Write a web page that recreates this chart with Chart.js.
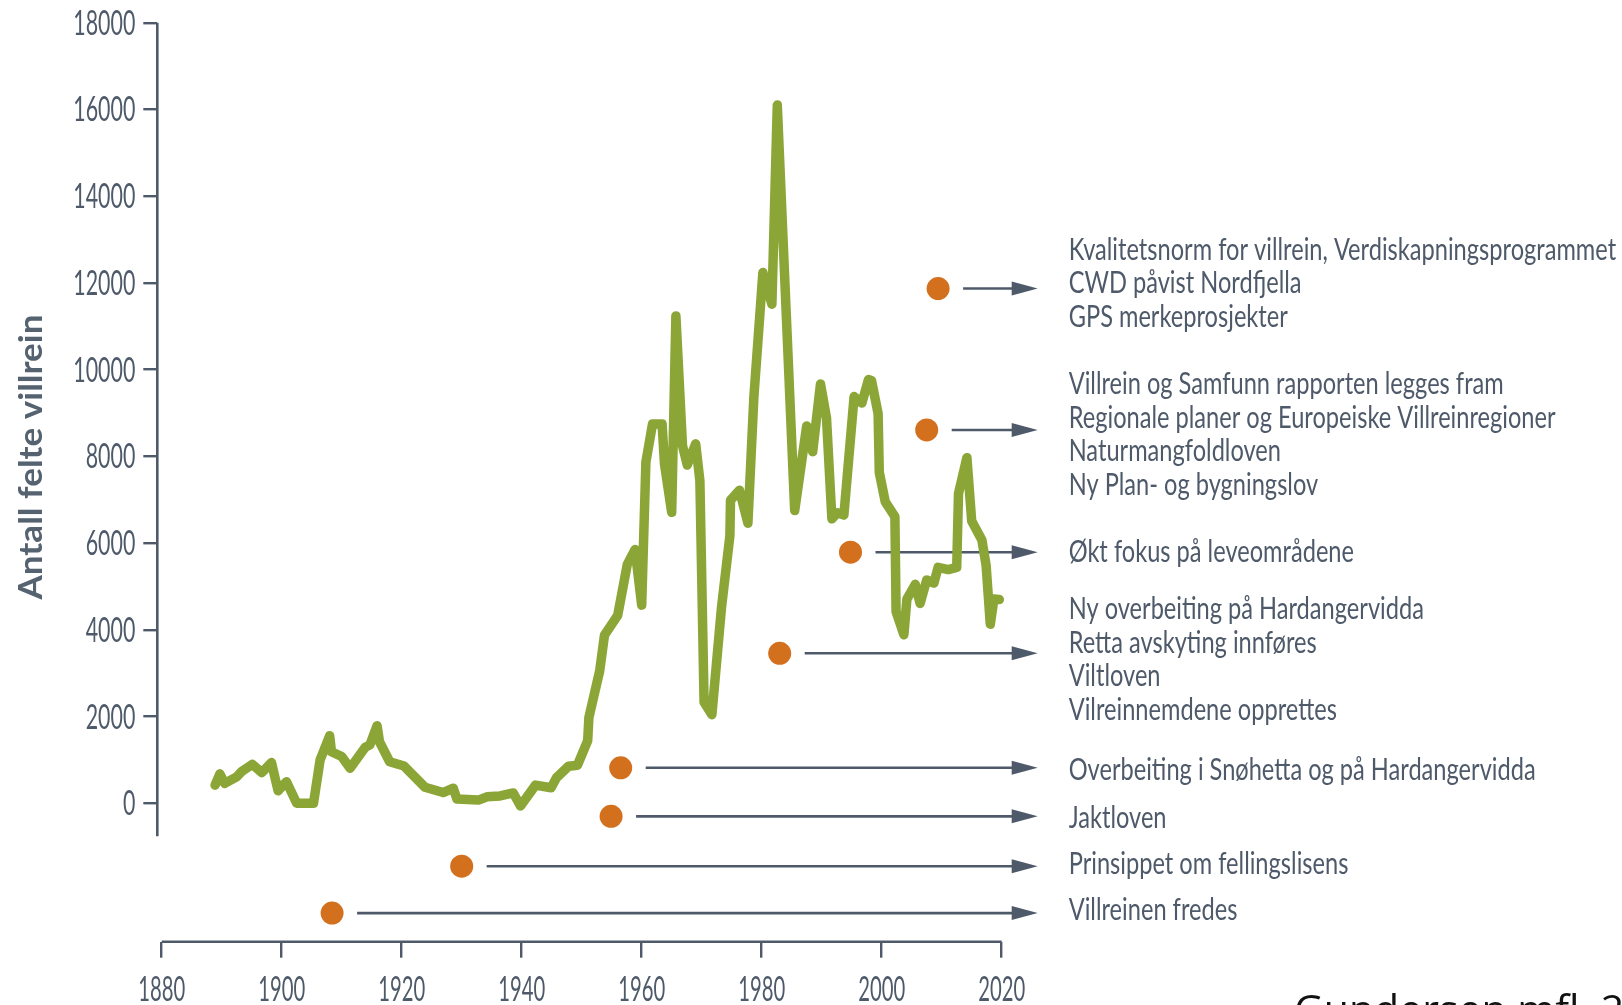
<!DOCTYPE html>
<html lang="no">
<head>
<meta charset="utf-8">
<title>Antall felte villrein</title>
<script src="https://cdn.jsdelivr.net/npm/chart.js@4.4.1/dist/chart.umd.min.js"></script>
<style>
  html, body { margin: 0; padding: 0; background: #fff; }
  canvas { display: block; }
</style>
</head>
<body>
<canvas id="villrein" width="1622" height="1005"></canvas>
<script>
// Felte villrein per år (lest av figuren, knekkpunkt for knekkpunkt)
const AAR = [
  1888.9, 1889.7, 1890.5, 1892.5, 1893.3, 1895.1, 1896.7, 1898.3, 1899.4, 1900.8,
  1902.5, 1905.3, 1906.4, 1908.0, 1908.3, 1910.0, 1911.4, 1913.9, 1914.7, 1915.9,
  1916.3, 1918.0, 1920.4, 1923.9, 1926.9, 1928.6, 1929.2, 1932.8, 1934.2, 1936.4,
  1938.6, 1939.8, 1942.3, 1944.9, 1945.8, 1947.8, 1949.3, 1951.0, 1951.2, 1953.0,
  1953.8, 1956.0, 1957.6, 1958.9, 1960.0, 1960.7, 1961.8, 1963.4, 1963.8, 1965.0,
  1965.7, 1966.8, 1967.6, 1969.0, 1969.7, 1970.4, 1971.7, 1973.3, 1974.7, 1974.8,
  1976.3, 1977.7, 1978.7, 1980.2, 1981.7, 1982.6, 1985.5, 1987.5, 1988.5, 1989.8,
  1990.8, 1991.7, 1992.6, 1993.7, 1995.4, 1996.7, 1997.8, 1998.3, 1999.4, 1999.6,
  2000.6, 2002.2, 2002.4, 2003.7, 2004.2, 2005.6, 2006.4, 2007.5, 2008.7, 2009.4,
  2011.1, 2012.5, 2012.8, 2014.2, 2015.0, 2016.7, 2017.4, 2018.1, 2018.7, 2019.6
];
const FELTE = [
  420, 680, 460, 610, 730, 900, 710, 940, 290, 500,
  0, 0, 1000, 1560, 1190, 1080, 810, 1290, 1350, 1790,
  1420, 960, 860, 370, 250, 350, 100, 75, 150, 170,
  240, -60, 420, 360, 590, 855, 880, 1445, 1980, 3055,
  3880, 4335, 5510, 5855, 4570, 7870, 8745, 8745, 7825, 6710,
  11240, 8250, 7800, 8290, 7440, 2330, 2045, 4515, 6170, 6990,
  7220, 6460, 9380, 12240, 11510, 16100, 6750, 8700, 8110, 9670,
  8890, 6560, 6700, 6650, 9380, 9230, 9770, 9750, 8990, 7630,
  6950, 6610, 4420, 3890, 4710, 5050, 4610, 5150, 5080, 5440,
  5390, 5440, 7140, 7970, 6510, 6070, 5490, 4130, 4710, 4700
];

// Hendelser (prikk + pil + tekst)
const HENDELSE_AAR = [2009.4, 2007.5, 1994.8, 1983.0, 1956.5, 1954.9, 1930.0, 1908.4];
const HENDELSE_Y = [11870, 8610, 5790, 3460, 820, -300, -1450, -2530];
const HENDELSE_TEKST = [
  ["Kvalitetsnorm for villrein, Verdiskapningsprogrammet", "CWD påvist Nordfjella", "GPS merkeprosjekter"],
  ["Villrein og Samfunn rapporten legges fram", "Regionale planer og Europeiske Villreinregioner", "Naturmangfoldloven", "Ny Plan- og bygningslov"],
  ["Økt fokus på leveområdene"],
  ["Ny overbeiting på Hardangervidda", "Retta avskyting innføres", "Viltloven", "Vilreinnemdene opprettes"],
  ["Overbeiting i Snøhetta og på Hardangervidda"],
  ["Jaktloven"],
  ["Prinsippet om fellingslisens"],
  ["Villreinen fredes"]
];

const X_TICKS = [1880, 1900, 1920, 1940, 1960, 1980, 2000, 2020];
const Y_TICKS = [0, 2000, 4000, 6000, 8000, 10000, 12000, 14000, 16000, 18000];
const Y_TITTEL = "Antall felte villrein";
const KILDE = "Gundersen mfl. 2022";

// utseende
const SKIFER = "#4e5a6a";
const GRONN = "#8ba637";
const ORANSJE = "#d3701e";
const FONT = "Lato";
const PIL_SLUTT = 2026;      // år der pilspissene ender
const Y_AKSE_BUNN = -760;    // y-aksen stopper litt under 0
const TEKST_DY = [-29, -36, 10, -34, 12, 12, 8, 7];
const LINJEAVSTAND = 33.6;

function squish(ctx, text, x, y, font, sx, align) {
  ctx.save();
  ctx.font = font;
  ctx.translate(x, y);
  ctx.scale(sx, 1);
  ctx.textAlign = align;
  ctx.textBaseline = "alphabetic";
  ctx.fillText(text, 0, 0);
  ctx.restore();
}

function factor(ctx, font, ref, target) {
  ctx.save();
  ctx.font = font;
  const w = ctx.measureText(ref).width;
  ctx.restore();
  return target / w;
}

const overlay = {
  id: "villreinOverlay",
  beforeDatasetsDraw(chart) {
    const { ctx, scales: { x, y } } = chart;
    ctx.save();
    ctx.strokeStyle = SKIFER;
    ctx.fillStyle = SKIFER;
    ctx.lineWidth = 2.6;
    const x1 = x.getPixelForValue(PIL_SLUTT);
    HENDELSE_AAR.forEach((aar, i) => {
      const py = y.getPixelForValue(HENDELSE_Y[i]);
      const x0 = x.getPixelForValue(aar) + 25;
      ctx.beginPath();
      ctx.moveTo(x0, py);
      ctx.lineTo(x1 - 20, py);
      ctx.stroke();
      ctx.beginPath();
      ctx.moveTo(x1, py);
      ctx.lineTo(x1 - 26, py - 7);
      ctx.lineTo(x1 - 26, py + 7);
      ctx.closePath();
      ctx.fill();
    });
    ctx.restore();
  },
  afterDraw(chart) {
    const { ctx, chartArea, scales: { x, y } } = chart;
    ctx.save();
    ctx.strokeStyle = SKIFER;
    ctx.fillStyle = SKIFER;
    ctx.lineWidth = 2.6;

    // akselinjer
    ctx.beginPath();
    ctx.moveTo(chartArea.left, y.getPixelForValue(Y_TICKS[Y_TICKS.length - 1]));
    ctx.lineTo(chartArea.left, y.getPixelForValue(Y_AKSE_BUNN));
    ctx.stroke();
    ctx.beginPath();
    ctx.moveTo(x.getPixelForValue(X_TICKS[0]), chartArea.bottom);
    ctx.lineTo(x.getPixelForValue(X_TICKS[X_TICKS.length - 1]), chartArea.bottom);
    ctx.stroke();

    // tick-etiketter
    const tickFont = `34px ${FONT}`;
    const syY = factor(ctx, tickFont, "18000", 62);
    const syX = factor(ctx, tickFont, "1880", 47);
    Y_TICKS.forEach((v) => {
      squish(ctx, String(v), chartArea.left - 22, y.getPixelForValue(v) + 12, tickFont, syY, "right");
    });
    X_TICKS.forEach((v) => {
      squish(ctx, String(v), x.getPixelForValue(v), 1001, tickFont, syX, "center");
    });

    // hendelsestekster
    const textFont = `30px ${FONT}`;
    const sxT = factor(ctx, textFont, "Overbeiting i Snøhetta og på Hardangervidda", 467);
    const tx = x.getPixelForValue(PIL_SLUTT) + 31;
    HENDELSE_TEKST.forEach((linjer, i) => {
      const base = y.getPixelForValue(HENDELSE_Y[i]) + TEKST_DY[i];
      linjer.forEach((l, j) => squish(ctx, l, tx, base + j * LINJEAVSTAND, textFont, sxT, "left"));
    });

    // y-aksetittel
    const titleFont = `bold 32px ${FONT}`;
    const sxTit = factor(ctx, titleFont, Y_TITTEL, 285);
    ctx.save();
    ctx.translate(42, 457);
    ctx.rotate(-Math.PI / 2);
    ctx.fillStyle = "#55626f";
    squish(ctx, Y_TITTEL, 0, 0, titleFont, sxTit, "center");
    ctx.restore();

    // kilde (avkuttet nederst til høyre)
    ctx.fillStyle = "#111";
    ctx.font = `41px "Open Sans"`;
    ctx.textAlign = "left";
    ctx.textBaseline = "alphabetic";
    ctx.fillText(KILDE, 1294, 1024);
    ctx.restore();
  }
};

new Chart(document.getElementById("villrein"), {
  data: {
    datasets: [
      {
        type: "line",
        data: AAR.map((a, i) => ({ x: a, y: FELTE[i] })),
        borderColor: GRONN,
        borderWidth: 9.5,
        borderJoinStyle: "round",
        borderCapStyle: "round",
        pointRadius: 0,
        tension: 0,
        clip: false,
        order: 1
      },
      {
        type: "scatter",
        data: HENDELSE_AAR.map((a, i) => ({ x: a, y: HENDELSE_Y[i] })),
        backgroundColor: ORANSJE,
        borderWidth: 0,
        pointRadius: 11.5,
        clip: false,
        order: 2
      }
    ]
  },
  options: {
    responsive: false,
    animation: false,
    events: [],
    layout: { padding: { top: 22.7, right: 584.3, bottom: 0, left: 0 } },
    plugins: { legend: { display: false }, tooltip: { enabled: false } },
    scales: {
      x: {
        type: "linear",
        min: 1879.27,
        max: PIL_SLUTT,
        border: { display: false },
        grid: { drawOnChartArea: false, drawTicks: true, tickLength: 16, color: SKIFER, lineWidth: 2.4 },
        ticks: { display: false },
        afterBuildTicks: (s) => { s.ticks = X_TICKS.map((v) => ({ value: v })); },
        afterFit: (s) => { s.height = 63.3; }
      },
      y: {
        type: "linear",
        min: -3190,
        max: 18000,
        border: { display: false },
        grid: { drawOnChartArea: false, drawTicks: true, tickLength: 14, color: SKIFER, lineWidth: 2.4 },
        ticks: { display: false },
        afterBuildTicks: (s) => { s.ticks = Y_TICKS.map((v) => ({ value: v })); },
        afterFit: (s) => { s.width = 157.3; }
      }
    }
  },
  plugins: [overlay]
});
</script>
</body>
</html>
